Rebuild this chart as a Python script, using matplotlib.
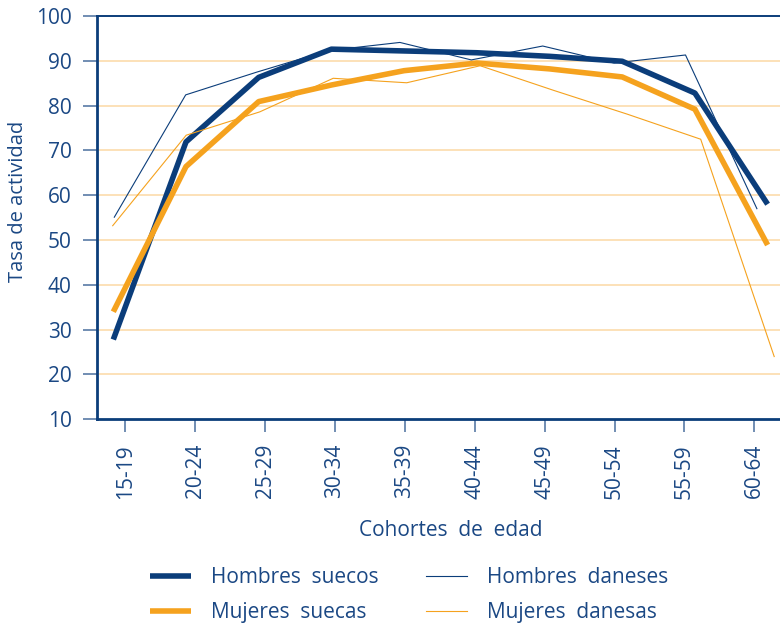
import matplotlib
matplotlib.use("Agg")
import matplotlib.pyplot as plt

# cohortes de edad y tasas de actividad (%)
cohortes = ["15-19", "20-24", "25-29", "30-34", "35-39",
            "40-44", "45-49", "50-54", "55-59", "60-64"]
hombres_suecos = [27.8, 71.9, 86.3, 92.6, 92.2, 91.8, 91.0, 89.9, 82.8, 58.0]
mujeres_suecas = [34.0, 66.4, 80.9, 84.6, 87.8, 89.5, 88.2, 86.4, 79.2, 48.9]
hombres_daneses = [55.1, 82.4, 87.5, 92.3, 94.1, 90.2, 93.3, 89.5, 91.3, 57.0]
mujeres_danesas = [53.2, 73.4, 78.6, 86.1, 85.1, 88.9, 83.4, 78.1, 72.5, 24.0]
yticks = list(range(10, 101, 10))

NAVY = "#0b3d7a"
ORANGE = "#f5a21e"
GRID = "#fcd9a4"
TXT = "#1b4884"

plt.rcParams["font.family"] = ["Open Sans", "DejaVu Sans"]

W, H = 780, 627
fig = plt.figure(figsize=(W / 100, H / 100), dpi=100)
L, R, T, B = 96.7, 790.0, 16.0, 419.3
ax = fig.add_axes([L / W, 1 - B / H, (R - L) / W, (B - T) / H])


def span(x0, step):
    # xlim so that category i sits at pixel x0 + step*i
    return ((L - x0) / step, (R - x0) / step)


idx = list(range(len(cohortes)))
ax.set_xlim(*span(125.2, 69.9))
ax.set_ylim(10, 100)
ax.set_xticks(idx)
ax.set_xticklabels(cohortes, rotation=90)
ax.set_yticks(yticks)
for y in yticks[1:-1]:
    ax.axhline(y, color=GRID, lw=1.1, zorder=0)

for s in ("left", "bottom", "top"):
    ax.spines[s].set_color(NAVY)
ax.spines["left"].set_linewidth(2.0)
ax.spines["bottom"].set_linewidth(2.0)
ax.spines["top"].set_linewidth(1.4)
ax.spines["right"].set_visible(False)
ax.tick_params(axis="y", length=10, width=1.1, color="#4a6f9e", pad=8,
               labelsize=15, labelcolor=TXT)
ax.tick_params(axis="x", length=9.2, width=1.1, color="#4a6f9e", pad=8.5,
               labelsize=15, labelcolor=TXT)


def overlay(x0, step):
    o = ax.twiny()
    o.set_xlim(*span(x0, step))
    o.axis("off")
    return o


sw = overlay(113.3, 72.7)
l1, = sw.plot(idx, hombres_suecos, color=NAVY, lw=4.0, solid_capstyle="butt")
l2, = sw.plot(idx, mujeres_suecas, color=ORANGE, lw=4.0, solid_capstyle="butt")
dkh = overlay(114.3, 71.4)
l3, = dkh.plot(idx, hombres_daneses, color=NAVY, lw=0.8)
dkm = overlay(112.7, 73.5)
l4, = dkm.plot(idx, mujeres_danesas, color=ORANGE, lw=0.8)

fig.text(18 / W, 1 - 201 / H, "Tasa de actividad", rotation=90,
         ha="center", va="center", fontsize=14.5, color=TXT)
fig.text(451 / W, 1 - 531 / H, "Cohortes  de  edad",
         ha="center", va="center", fontsize=15, color=TXT)

kw = dict(frameon=False, loc="upper left", borderpad=0, borderaxespad=0,
          handlelength=1.95, handletextpad=1.0, labelspacing=0.69,
          fontsize=15, labelcolor=TXT)
fig.legend([l1, l2], ["Hombres  suecos", "Mujeres  suecas"],
           bbox_to_anchor=(150 / W, 1 - 567 / H), **kw)
fig.legend([l3, l4], ["Hombres  daneses", "Mujeres  danesas"],
           bbox_to_anchor=(426 / W, 1 - 567 / H), **kw)

fig.savefig("out.png", dpi=100)
